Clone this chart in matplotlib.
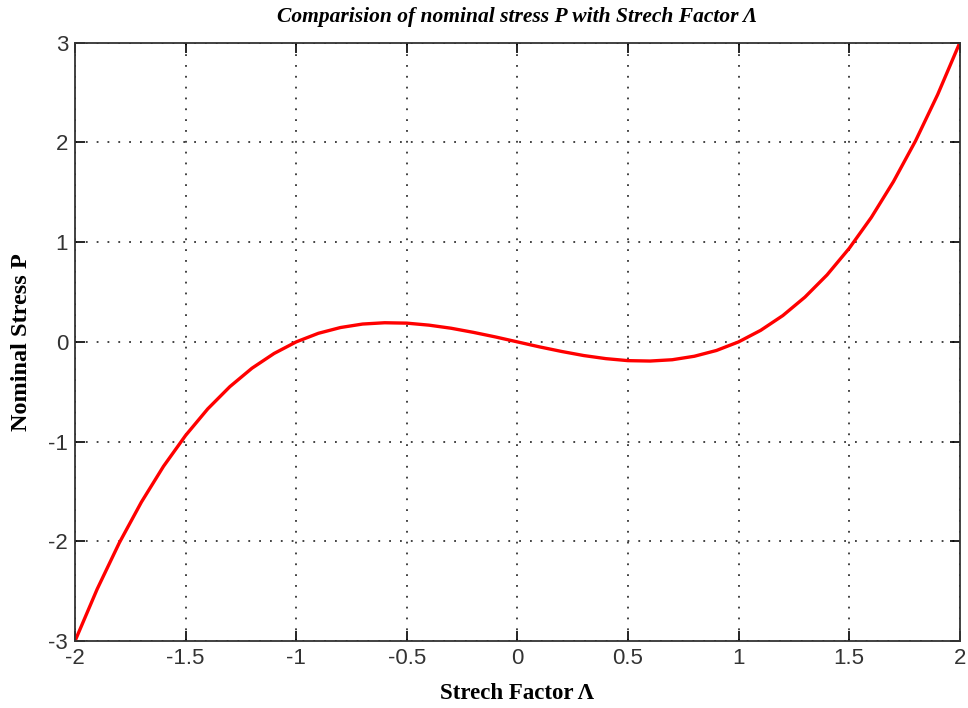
import numpy as np
import matplotlib.pyplot as plt

# Strech factor and nominal stress values
strech = [-2.0, -1.9, -1.8, -1.7, -1.6, -1.5, -1.4, -1.3, -1.2, -1.1, -1.0,
          -0.9, -0.8, -0.7, -0.6, -0.5, -0.4, -0.3, -0.2, -0.1, 0.0,
          0.1, 0.2, 0.3, 0.4, 0.5, 0.6, 0.7, 0.8, 0.9, 1.0,
          1.1, 1.2, 1.3, 1.4, 1.5, 1.6, 1.7, 1.8, 1.9, 2.0]
stress = [-3.0, -2.48, -2.016, -1.607, -1.248, -0.938, -0.672, -0.449, -0.264, -0.116, 0.0,
          0.086, 0.144, 0.179, 0.192, 0.188, 0.168, 0.137, 0.096, 0.050, 0.0,
          -0.050, -0.096, -0.137, -0.168, -0.188, -0.192, -0.179, -0.144, -0.086, 0.0,
          0.116, 0.264, 0.449, 0.672, 0.938, 1.248, 1.607, 2.016, 2.48, 3.0]

xticks = [-2, -1.5, -1, -0.5, 0, 0.5, 1, 1.5, 2]
xlabels = ['-2', '-1.5', '-1', '-0.5', '0', '0.5', '1', '1.5', '2']
yticks = [-3, -2, -1, 0, 1, 2, 3]
ylabels = ['-3', '-2', '-1', '0', '1', '2', '3']

fig = plt.figure(figsize=(9.68, 7.08), dpi=100)
ax = fig.add_axes([0.0775, 0.0946, 0.914, 0.845])

ax.plot(strech, stress, color='red', linewidth=2.4)

ax.set_xlim(-2, 2)
ax.set_ylim(-3, 3)
ax.set_xticks(xticks)
ax.set_xticklabels(xlabels)
ax.set_yticks(yticks)
ax.set_yticklabels(ylabels)
ax.tick_params(direction='in', top=True, right=True, length=7, width=1.2,
               labelsize=16, labelcolor='#333333', pad=5)
for lab in ax.get_xticklabels() + ax.get_yticklabels():
    lab.set_family('Liberation Sans')

ax.grid(True, color='#333333', linestyle=(0, (1, 5)), linewidth=1.3)
for sp in ax.spines.values():
    sp.set_linewidth(1.3)
    sp.set_color('#333333')

ax.set_title('Comparision of nominal stress P with Strech Factor Λ',
             family='Liberation Serif', fontsize=15.5, fontweight='bold',
             style='italic', pad=15)
ax.set_xlabel('Strech Factor Λ', family='Liberation Serif', fontsize=16.5,
              fontweight='bold', labelpad=10)
ax.set_ylabel('Nominal Stress P', family='Liberation Serif', fontsize=17.5,
              fontweight='bold', labelpad=12)

plt.savefig('out.png', dpi=100)
